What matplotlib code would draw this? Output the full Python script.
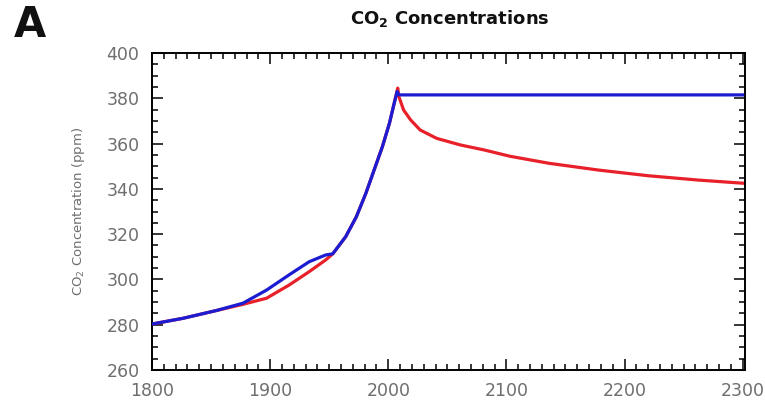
import matplotlib
matplotlib.use("Agg")
import matplotlib.pyplot as plt
from matplotlib.ticker import MultipleLocator

# Historical rise, then concentrations held constant (blue)
blue_years = [1800, 1826, 1854, 1877, 1897, 1916, 1933, 1947, 1953, 1964, 1973,
              1981, 1988, 1995, 2001, 2005, 2007.5, 2009, 2050, 2100, 2150, 2200,
              2250, 2300]
blue_ppm = [280.3, 282.8, 286.2, 289.5, 295.3, 302.0, 307.8, 310.8, 311.3, 318.9, 327.7,
            338.0, 348.3, 358.6, 369.0, 377.8, 383.0, 381.5, 381.5, 381.5, 381.5, 381.5,
            381.5, 381.5]

# Historical rise, then emissions stopped (red)
red_years = [1800, 1826, 1854, 1877, 1897, 1916, 1933, 1947, 1953, 1964, 1973,
             1981, 1988, 1995, 2001, 2005, 2008, 2009, 2013, 2019, 2027, 2041,
             2061, 2081, 2103, 2136, 2178, 2220, 2262, 2300]
red_ppm = [280.3, 282.8, 286.2, 289.0, 291.7, 297.5, 303.4, 308.6, 311.3, 318.9, 327.7,
           338.0, 348.3, 358.6, 369.0, 377.8, 384.5, 380.7, 374.8, 370.4, 366.0, 362.3,
           359.4, 357.2, 354.4, 351.3, 348.3, 345.8, 343.9, 342.5]

x_ticks = [1800, 1900, 2000, 2100, 2200, 2300]
y_ticks = [260, 280, 300, 320, 340, 360, 380, 400]

fig = plt.figure(figsize=(7.65, 4.11), dpi=100)
ax = fig.add_axes([0.1987, 0.0998, 0.7752, 0.7712])

ax.plot(blue_years, blue_ppm, color="#1c1cd2", lw=2.3, solid_joinstyle="round", zorder=3)
ax.plot(red_years, red_ppm, color="#e8202a", lw=2.3, solid_joinstyle="round", zorder=2)

ax.set_xlim(1800, 2302)
ax.set_ylim(260, 400)
ax.set_xticks(x_ticks)
ax.set_yticks(y_ticks)
ax.xaxis.set_minor_locator(MultipleLocator(10))
ax.yaxis.set_minor_locator(MultipleLocator(5))

tick_color = "#6e6e6e"
ax.tick_params(which="both", direction="in", top=True, right=True,
               color="black", width=1.1)
ax.tick_params(which="major", length=8, labelsize=12.5, labelcolor=tick_color, pad=9)
ax.tick_params(which="minor", length=4)
for s in ax.spines.values():
    s.set_linewidth(1.4)
    s.set_color("black")

ax.set_ylabel("CO$_2$ Concentration (ppm)", color=tick_color, fontsize=9.5, labelpad=14)

fig.text(0.588, 0.955, "CO$_\\mathbf{2}$ Concentrations", ha="center", va="center",
         fontsize=13, fontweight="bold", color="#111111")
fig.text(0.018, 0.94, "A", ha="left", va="center", fontsize=30,
         fontweight="bold", color="#111111")

fig.savefig("out.png", dpi=100, facecolor="white")
